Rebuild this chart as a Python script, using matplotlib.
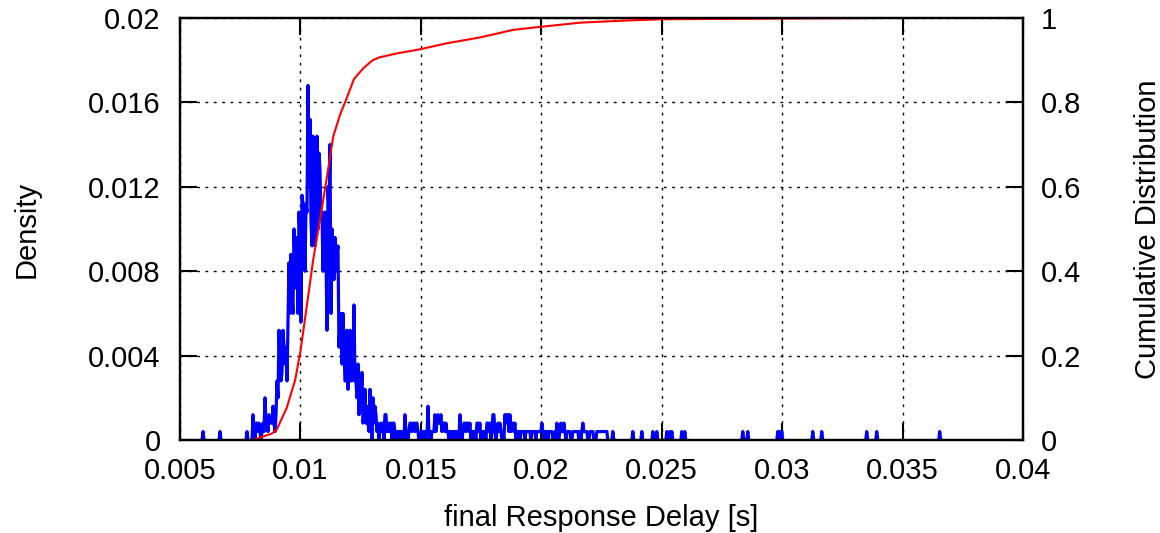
import numpy as np
import matplotlib
matplotlib.use("Agg")
from matplotlib import pyplot as plt

plt.rcParams['font.family'] = ['Liberation Sans', 'DejaVu Sans']

# histogram of the response delay, counts per bin (bin width ~41.5 us)
n_samples = 2500
bin_w = 4.15e-5
dense_start = 0.00803
dense_counts = [
    3, 1, 0, 2, 2, 1, 2, 1, 0, 1, 2, 1, 5, 2, 2, 1, 3, 2, 2, 2, 4, 2, 1, 3, 7, 5, 13, 9, 7, 8,
    13, 11, 9, 11, 7, 14, 21, 15, 22, 17, 15, 25, 21, 18, 24, 15, 27, 24, 14, 29, 28, 25, 20, 28, 27, 42, 30, 38, 26, 23,
    36, 27, 23, 31, 36, 25, 34, 32, 26, 27, 20, 25, 27, 22, 13, 30, 27, 35, 15, 25, 21, 19, 24, 20, 22, 23, 11, 14, 15, 9,
    15, 11, 7, 10, 13, 6, 10, 13, 7, 7, 10, 16, 7, 7, 5, 9, 3, 6, 5, 8, 2, 3, 6, 2, 4, 2, 1, 6, 3, 0,
    5, 2, 4, 3, 1, 2, 0, 1, 2, 1, 2, 0, 3, 3, 1, 1, 2, 1, 2, 0, 2, 2, 1, 0, 1, 0, 1, 1, 0, 1,
    1, 0, 3, 1, 1, 0, 1, 2, 2, 1, 2, 2, 1, 2, 2, 1, 0, 0, 1, 1, 0, 1, 1, 1, 0, 4, 1, 1, 0, 1,
    1, 1, 3, 1, 2, 3, 2, 2, 3, 1, 2, 2, 1, 2, 1, 1, 0, 1, 1, 0, 1, 1, 0, 1, 1, 1, 0, 3, 1, 0,
    1, 2, 2, 1, 2, 2, 1, 2, 0, 1, 1, 0, 1, 0, 2, 2, 1, 2, 0, 1, 1, 0, 1, 0, 2, 2, 1, 2, 0, 1,
    3, 3, 1, 0, 1, 2, 1, 2, 1, 0, 1, 0, 3, 2, 3, 3, 1, 3, 1, 2, 2, 1, 2, 0, 1, 1, 1, 0, 1, 1,
    1, 1, 0, 1, 1, 1, 1, 1, 0, 1, 1, 1, 1, 0, 1, 1, 1, 1, 1, 2, 1, 0, 1, 1, 1, 0, 1, 1, 1, 1,
    0, 0, 1, 0, 2, 1, 0, 1, 2, 1, 1, 2, 1, 0, 1, 1, 1, 1, 0, 0, 1, 1, 1, 1, 1, 1, 0, 1, 0, 1,
    2, 1, 1, 1, 1, 0, 0, 1, 1, 1, 1, 0, 0, 0, 1, 1, 1, 1, 1, 1, 1, 1, 1, 1, 1, 0, 0, 0,
]
# isolated single samples outside the dense part
sparse_delay = [0.005955, 0.006661, 0.007782, 0.02298, 0.02381, 0.02418, 0.02464, 0.02480,
                0.02522, 0.02534, 0.02543, 0.02584, 0.02597, 0.02838, 0.02858, 0.02983,
                0.02991, 0.03000, 0.03128, 0.03166, 0.03352, 0.03394, 0.03656]

# cumulative distribution
cdf_delay = [0.00803, 0.0088, 0.00901, 0.00943, 0.00978, 0.00999, 0.01026, 0.01053, 0.01081,
             0.01108, 0.01136, 0.01164, 0.01192, 0.01222, 0.01261, 0.0130, 0.0133, 0.0140,
             0.01498, 0.01607, 0.01746, 0.01884, 0.01996, 0.02162, 0.0235, 0.025, 0.028,
             0.031, 0.0339]
cdf_value = [0.0, 0.015, 0.024, 0.076, 0.142, 0.206, 0.316, 0.427, 0.521,
             0.616, 0.719, 0.770, 0.810, 0.855, 0.881, 0.900, 0.907, 0.916,
             0.926, 0.940, 0.954, 0.972, 0.979, 0.989, 0.994, 0.997, 0.998,
             0.999, 1.0]

# put everything on one bin grid
grid_start = 0.0055
n_bins = int(round((0.0375 - grid_start) / bin_w))
counts = np.zeros(n_bins)
i0 = int(round((dense_start - grid_start) / bin_w))
counts[i0:i0 + len(dense_counts)] = dense_counts
for d in sparse_delay:
    counts[int(round((d - grid_start) / bin_w))] += 1
bins = grid_start + np.arange(n_bins) * bin_w
density = counts / n_samples

# don't draw along the axis inside long empty stretches
empty = counts == 0
inner = empty & np.r_[True, empty[:-1]] & np.r_[empty[1:], True]
density[inner] = np.nan

fig = plt.figure(figsize=(11.6, 5.33), dpi=100)
ax = fig.add_axes([180 / 1160, 1 - 440 / 533, 843 / 1160, 422 / 533])
ax2 = ax.twinx()

ax.plot(bins, density, color='#0000ff', lw=2.3, zorder=2)
ax2.plot(cdf_delay, cdf_value, color='#ff0000', lw=1.5, zorder=2)

ax.set_xlim(0.005, 0.04)
ax.set_ylim(0, 0.02)
ax2.set_ylim(0, 1)

ax.set_xticks([0.005, 0.01, 0.015, 0.02, 0.025, 0.03, 0.035, 0.04])
ax.set_xticklabels(['0.005', '0.01', '0.015', '0.02', '0.025', '0.03', '0.035', '0.04'])
ax.set_yticks([0, 0.004, 0.008, 0.012, 0.016, 0.02])
ax.set_yticklabels(['0', '0.004', '0.008', '0.012', '0.016', '0.02'])
ax2.set_yticks([0, 0.2, 0.4, 0.6, 0.8, 1])
ax2.set_yticklabels(['0', '0.2', '0.4', '0.6', '0.8', '1'])

ax.grid(True, color='black', linestyle=(0, (2, 4)), linewidth=1)
ax.tick_params(axis='x', direction='in', length=12, width=1.5, top=True, labelsize=21, pad=12)
ax.tick_params(axis='y', direction='in', length=12, width=1.5, labelsize=21, pad=14)
ax2.tick_params(axis='y', direction='in', length=12, width=1.5, labelsize=21, pad=13)

for a in (ax, ax2):
    for s in a.spines.values():
        s.set_linewidth(1.6)
        s.set_zorder(5)

ax.set_xlabel('final Response Delay [s]', fontsize=21, labelpad=14)
ax.set_ylabel('Density', fontsize=21, labelpad=34)
ax2.set_ylabel('Cumulative Distribution', fontsize=21, labelpad=38)

fig.savefig('out.png', dpi=100)
